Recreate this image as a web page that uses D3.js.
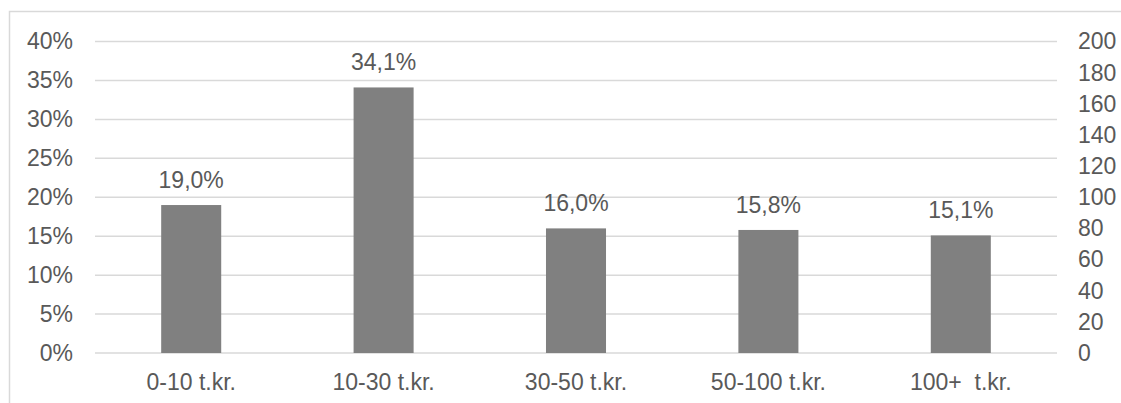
<!DOCTYPE html>
<html>
<head>
<meta charset="utf-8">
<script src="https://cdn.jsdelivr.net/npm/d3@7"></script>
<style>
  html, body { margin: 0; padding: 0; background: #fff; }
  svg { display: block; }
  text { font-family: "Liberation Sans", Arial, sans-serif; fill: #595959; }
</style>
</head>
<body>
<svg id="chart" width="1121" height="403"></svg>
<script>
const categories = ["0-10 t.kr.", "10-30 t.kr.", "30-50 t.kr.", "50-100 t.kr.", "100+  t.kr."];
const shares = [19.0, 34.1, 16.0, 15.8, 15.1];
const valueLabels = ["19,0%", "34,1%", "16,0%", "15,8%", "15,1%"];
const leftTicks = [0, 5, 10, 15, 20, 25, 30, 35, 40];
const rightTicks = [0, 20, 40, 60, 80, 100, 120, 140, 160, 180, 200];

const svg = d3.select("#chart");
const W = 1121, H = 403;
const plot = { left: 95, right: 1057, top: 41.5, bottom: 353 };
const fontSize = 23;

// outer border (chart area frame, cropped at right/bottom)
svg.append("rect")
  .attr("x", 9.5).attr("y", 11.5)
  .attr("width", 1300).attr("height", 600)
  .attr("fill", "none").attr("stroke", "#d9d9d9").attr("stroke-width", 1.5);

const x = d3.scaleBand().domain(categories).range([plot.left, plot.right]).paddingInner(0.688).paddingOuter(0.344);
const y = d3.scaleLinear().domain([0, 40]).range([plot.bottom, plot.top]);
const y2 = d3.scaleLinear().domain([0, 200]).range([plot.bottom, plot.top]);

// gridlines
svg.append("g").selectAll("line").data(leftTicks).join("line")
  .attr("x1", plot.left).attr("x2", plot.right)
  .attr("y1", d => y(d)).attr("y2", d => y(d))
  .attr("stroke", "#d9d9d9").attr("stroke-width", 1.5);

// bars
svg.append("g").selectAll("rect").data(shares).join("rect")
  .attr("x", (d, i) => x(categories[i]))
  .attr("width", x.bandwidth())
  .attr("y", d => y(d))
  .attr("height", d => y(0) - y(d))
  .attr("fill", "#808080");

// value labels
svg.append("g").selectAll("text").data(shares).join("text")
  .attr("x", (d, i) => x(categories[i]) + x.bandwidth() / 2)
  .attr("y", d => y(d) - 17)
  .attr("text-anchor", "middle")
  .attr("font-size", fontSize)
  .text((d, i) => valueLabels[i]);

// left axis
const leftAxis = d3.axisLeft(y).tickValues(leftTicks).tickFormat(d => d + "%").tickSize(0).tickPadding(0);
const gl = svg.append("g").attr("transform", "translate(73,0)").call(leftAxis);
gl.select(".domain").remove();
gl.selectAll("text").attr("font-size", fontSize).attr("font-family", "Liberation Sans, Arial, sans-serif").attr("fill", "#595959");

// right axis
const rightAxis = d3.axisRight(y2).tickValues(rightTicks).tickFormat(d => d).tickSize(0).tickPadding(0);
const gr = svg.append("g").attr("transform", "translate(1078,0)").call(rightAxis);
gr.select(".domain").remove();
gr.selectAll("text").attr("font-size", fontSize).attr("font-family", "Liberation Sans, Arial, sans-serif").attr("fill", "#595959");

// bottom axis
const bottomAxis = d3.axisBottom(x).tickSize(0).tickPadding(0);
const gb = svg.append("g").attr("transform", "translate(0,390)").call(bottomAxis);
gb.select(".domain").remove();
gb.selectAll("text").attr("dy", 0).attr("font-size", fontSize)
  .attr("font-family", "Liberation Sans, Arial, sans-serif").attr("fill", "#595959")
  .style("white-space", "pre");
</script>
</body>
</html>
